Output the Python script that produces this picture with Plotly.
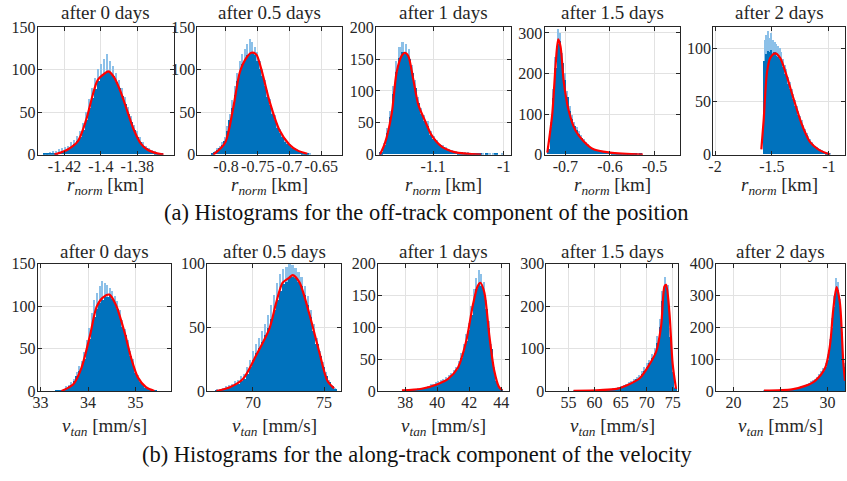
import numpy as np
import plotly.graph_objects as go

# ---------------- DATA ----------------
TITLES = ["after 0 days", "after 0.5 days", "after 1 days", "after 1.5 days", "after 2 days"]
CAPTION_A = "(a) Histograms for the off-track component of the position"
CAPTION_B = "(b) Histograms for the along-track component of the velocity"
XLABEL_A = "<i>r</i><sub><i>norm</i></sub> [km]"
XLABEL_B = "<i>v</i><sub><i>tan</i></sub> [mm/s]"

# histogram bin spans (lo, hi) of the data for each panel
POS_BIN_SPANS = [(-1.432, -1.366), (-0.823, -0.665), (-1.176, -1.0), (-0.742, -0.53), (-1.57, -0.98)]
VEL_BIN_SPANS = [(33.3, 35.45), (67.4, 75.9), (37.8, 44.1), (56.0, 75.9), (23.2, 31.86)]

# position histogram counts (dark = bulk, light = noisy upper fringe)
POS_COUNTS_0 = [1,1,1,2,2,3,4,5,6,9,12,16,21,29,40,54,66,77,86,92,95,98,96,92,85,78,69,59,48,38,29,21,15,10,7,5,3,2,1,1]
POS_PEAKS_0 = [2,2,3,4,4,6,7,9,10,14,17,22,28,37,50,65,78,90,100,106,112,118,110,104,96,88,78,68,56,45,35,27,20,14,10,7,5,4,2,2]
POS_COUNTS_05 = [1,3,5,8,11,16,27,41,55,70,86,98,106,111,117,118,121,117,110,101,92,80,68,58,48,40,31,25,20,15,12,10,8,6,4,3,2,1,1,0]
POS_PEAKS_05 = [2,4,7,10,14,20,33,48,64,80,96,110,118,124,130,136,132,126,120,110,100,88,76,65,55,46,37,30,24,19,15,12,10,8,6,4,3,2,2,1]
POS_COUNTS_1 = [3,14,34,58,94,130,152,160,158,150,127,104,80,63,53,45,31,24,18,14,11,9,7,5,4,3,3,2,2,1,1,1,1,0,1,0,0,1,0,0]
POS_PEAKS_1 = [5,18,42,68,108,146,168,176,174,166,140,116,90,72,62,52,37,29,22,17,14,11,9,7,5,4,4,3,3,2,2,2,1,1,1,1,1,1,0,1]
POS_COUNTS_15 = [14,68,138,212,272,280,226,184,142,106,88,71,60,50,41,33,27,21,16,13,11,9,8,7,6,5,5,4,4,3,3,2,2,2,1,1,1,1,0,1]
POS_PEAKS_15 = [18,80,160,240,310,300,250,200,156,118,98,80,68,57,47,38,31,25,19,16,13,11,10,8,7,6,6,5,5,4,4,3,3,2,2,2,1,1,1,1]
POS_COUNTS_2 = [88,95,97,96,98,95,96,93,92,90,86,82,76,72,66,62,56,52,46,42,37,33,29,25,22,18,15,12,10,8,7,6,5,4,3,2,2,1,1,0]
POS_PEAKS_2 = [108,112,116,110,114,108,106,104,102,100,96,90,84,80,73,68,62,57,51,46,41,36,32,28,24,20,17,14,12,10,8,7,6,5,4,3,2,2,1,1]

# velocity histogram counts
VEL_COUNTS_0 = [1,1,1,2,4,6,8,12,18,24,29,38,50,62,76,88,97,104,108,112,111,113,109,104,97,88,76,66,54,42,33,22,16,11,7,4,3,2,1,1]
VEL_PEAKS_0 = [2,2,2,3,6,8,11,15,23,30,36,46,60,75,92,108,116,124,130,128,125,122,118,112,106,96,84,73,61,48,38,26,19,13,9,6,4,3,2,1]
VEL_COUNTS_05 = [1,1,2,2,3,4,5,6,8,10,14,19,25,30,34,39,44,50,57,64,72,79,84,86,89,90,89,86,83,76,68,58,47,37,28,19,12,7,4,2]
VEL_PEAKS_05 = [2,2,3,4,5,6,8,9,12,14,19,25,32,37,42,47,53,60,68,76,85,92,96,98,100,99,97,94,90,83,75,64,53,42,32,23,15,9,5,3]
VEL_COUNTS_1 = [1,1,1,2,2,2,3,3,4,5,6,8,9,10,12,14,16,18,20,24,28,33,40,52,64,79,96,120,144,160,170,166,157,130,99,66,33,17,6,2]
VEL_PEAKS_1 = [2,2,2,3,3,4,5,5,6,7,9,11,12,14,16,18,20,22,25,29,34,39,47,60,74,90,108,134,160,178,190,184,172,144,110,74,38,21,8,3]
VEL_COUNTS_15 = [0,1,1,1,1,1,2,2,2,2,2,3,3,4,4,5,6,8,10,12,14,17,20,25,28,31,40,49,58,66,78,90,115,152,212,250,228,128,46,7]
VEL_PEAKS_15 = [1,1,1,1,2,2,3,3,3,3,3,4,4,5,6,7,9,11,13,15,18,21,25,30,34,38,47,57,66,75,88,102,130,170,236,270,250,150,58,10]
VEL_COUNTS_2 = [1,1,1,1,2,2,2,3,3,3,4,4,5,5,6,8,9,11,13,15,17,20,23,26,30,33,38,46,55,64,76,100,142,200,264,320,318,268,168,78]
VEL_PEAKS_2 = [2,2,2,2,3,3,3,4,4,4,5,5,6,7,8,10,11,13,16,18,20,24,27,31,35,39,44,53,63,74,88,118,165,230,300,355,345,290,185,88]

# fitted density curves (red)
POS_FIT_X = [
    [-1.4255,-1.4182,-1.4127,-1.4082,-1.4045,-1.4018,-1.3982,-1.3958,-1.3927,-1.3891,-1.3855,-1.3818,-1.3782,-1.3745,-1.3691,-1.3655],
    [-0.8198,-0.8016,-0.7886,-0.7782,-0.7679,-0.760,-0.7523,-0.7445,-0.7315,-0.7159,-0.7003,-0.6875,-0.672],
    [-1.1752,-1.1682,-1.1587,-1.1517,-1.1446,-1.14,-1.1352,-1.1282,-1.1211,-1.1118,-1.1024,-1.0883,-1.0696,-1.032],
    [-0.7407,-0.7296,-0.7222,-0.7163,-0.7111,-0.7037,-0.6926,-0.6778,-0.6593,-0.637,-0.6,-0.526],
    [-1.593,-1.573,-1.544,-1.515,-1.471,-1.427,-1.370,-1.311,-1.239,-1.166,-1.093,-0.991],
]
POS_FIT_Y = [
    [0,6,15.5,40,70,87.5,95,98,91,74,51.5,29,13.6,6,1.5,0],
    [0,13.6,55,97,114,120,118,101,63,29,12,5,1],
    [0,18,64,129,155,160,155,119,79,54,31,13,4,0],
    [5,100,219,284,267,179,108,60,33,13,5,0],
    [5,32,77,91,95.5,91,74,53,29,12,5,0],
]
VEL_FIT_X = [
    [33.44,33.69,33.86,34.04,34.18,34.31,34.45,34.59,34.77,34.91,35.05,35.22,35.40],
    [67.44,68.38,69.30,70.23,71.16,71.63,72.09,72.56,72.79,73.26,73.95,74.65,75.23,75.70],
    [37.80,39.03,40.06,40.68,41.30,41.81,42.22,42.53,42.69,42.94,43.25,43.56,43.86,44.07],
    [55.95,61.04,64.21,66.12,68.66,70.56,71.84,72.79,73.42,73.74,74.37,75.0,75.65],
    [23.24,26.22,27.63,28.68,29.74,30.26,30.61,30.96,31.32,31.67,31.86],
]
VEL_FIT_Y = [
    [0,8,27,65,99,110,113.5,101,69,38.5,16,4.5,0],
    [0,3,9.4,28,49,69,85,89,91,85.5,61,31,8,2],
    [1,3.5,11,19,37,78,134,165,170,155,88,32,6,1],
    [0,2,5,13,30,63,93,154,246,250,185,63,5],
    [1,5,16,32,72,143,255,326,276,93,32],
]

# axis ranges and ticks
POS_XRANGES = [(-1.4347, -1.36), (-0.845, -0.617), (-1.181, -0.99), (-0.747, -0.442), (-2.017, -0.858)]
VEL_XRANGES = [(32.94, 35.74), (66.8, 76.2), (36.3, 44.47), (50.75, 76.1), (18.15, 31.86)]
POS_YMAX = [150, 150, 200, 314, 120]
VEL_YMAX = [150, 100, 200, 300, 400]
POS_XTICKS = [[-1.42, -1.4, -1.38], [-0.8, -0.75, -0.7, -0.65], [-1.1, -1.0], [-0.7, -0.6, -0.5], [-2, -1.5, -1]]
POS_XTICKTEXT = [["-1.42", "-1.4", "-1.38"], ["-0.8", "-0.75", "-0.7", "-0.65"], ["-1.1", "-1"], ["-0.7", "-0.6", "-0.5"], ["-2", "-1.5", "-1"]]
VEL_XTICKS = [[33, 34, 35], [70, 75], [38, 40, 42, 44], [55, 60, 65, 70, 75], [20, 25, 30]]
POS_YTICKS = [[0, 50, 100, 150], [0, 50, 100, 150], [0, 50, 100, 150, 200], [0, 100, 200, 300], [0, 50, 100]]
VEL_YTICKS = [[0, 50, 100, 150], [0, 50, 100], [0, 50, 100, 150, 200], [0, 100, 200, 300], [0, 100, 200, 300, 400]]

POS_COUNTS = [POS_COUNTS_0, POS_COUNTS_05, POS_COUNTS_1, POS_COUNTS_15, POS_COUNTS_2]
POS_PEAKS = [POS_PEAKS_0, POS_PEAKS_05, POS_PEAKS_1, POS_PEAKS_15, POS_PEAKS_2]
VEL_COUNTS = [VEL_COUNTS_0, VEL_COUNTS_05, VEL_COUNTS_1, VEL_COUNTS_15, VEL_COUNTS_2]
VEL_PEAKS = [VEL_PEAKS_0, VEL_PEAKS_05, VEL_PEAKS_1, VEL_PEAKS_15, VEL_PEAKS_2]

# ---------------- LAYOUT / STYLE ----------------
W, H = 847, 481
ROW_X_PX = [
    [(33, 170), (194, 340), (374, 510), (544, 681), (714, 847)],
    [(33, 167), (204, 339), (376, 508), (546, 679), (717, 847)],
]
ROW_Y_PX = [(20, 152), (265, 397)]
TITLE_TOP_PX = [-8, 239]
XLABEL_Y_PX = [185, 434]
CAPTION_Y_PX = [212, 463]
CAPTION_X_PX = [425, 416]

FONT = "'Liberation Serif', 'Times New Roman', 'DejaVu Serif', serif"
AXC = "#262626"
DARK = "rgb(0,114,189)"
LIGHT = "rgb(140,192,232)"
RED = "rgb(255,0,0)"
GRID = "#e2e2e2"

fig = go.Figure()
layout = dict(
    width=W, height=H, margin=dict(l=0, r=0, t=0, b=0),
    paper_bgcolor="white", plot_bgcolor="white",
    showlegend=False, barmode="overlay", bargap=0,
    font=dict(family=FONT, size=16, color=AXC),
)
annotations = []

rows = [
    (POS_BIN_SPANS, POS_COUNTS, POS_PEAKS, POS_FIT_X, POS_FIT_Y, POS_XRANGES, POS_YMAX,
     POS_XTICKS, POS_XTICKTEXT, POS_YTICKS, XLABEL_A),
    (VEL_BIN_SPANS, VEL_COUNTS, VEL_PEAKS, VEL_FIT_X, VEL_FIT_Y, VEL_XRANGES, VEL_YMAX,
     VEL_XTICKS, [[str(v) for v in t] for t in VEL_XTICKS], VEL_YTICKS, XLABEL_B),
]

k = 0
for r, (spans, counts, peaks, fx, fy, xr, ymax, xt, xtt, yt, xlabel) in enumerate(rows):
    for c in range(5):
        k += 1
        xa = "x" if k == 1 else f"x{k}"
        ya = "y" if k == 1 else f"y{k}"
        lo, hi = spans[c]
        n = len(counts[c])
        w = (hi - lo) / n
        centers = np.linspace(lo + w / 2, hi - w / 2, n)
        fig.add_trace(go.Bar(x=centers, y=peaks[c], width=w * 0.55, marker=dict(color=LIGHT, line=dict(width=0)),
                             xaxis=xa, yaxis=ya))
        fig.add_trace(go.Bar(x=centers, y=counts[c], width=w * 1.04, marker=dict(color=DARK, line=dict(width=0)),
                             xaxis=xa, yaxis=ya))
        fig.add_trace(go.Scatter(x=fx[c], y=fy[c], mode="lines",
                                 line=dict(color=RED, width=2.2, shape="spline", smoothing=0.8),
                                 xaxis=xa, yaxis=ya))
        x0, x1 = ROW_X_PX[r][c]
        y0, y1 = ROW_Y_PX[r]
        common = dict(ticks="inside", ticklen=4, tickcolor=AXC, showline=True, linecolor=AXC, linewidth=1,
                      mirror="allticks", showgrid=True, gridcolor=GRID, gridwidth=1, zeroline=False,
                      tickfont=dict(family=FONT, size=16, color=AXC))
        layout["xaxis" if k == 1 else f"xaxis{k}"] = dict(
            domain=[x0 / W, x1 / W], range=list(xr[c]), tickvals=xt[c], ticktext=xtt[c],
            anchor=ya, ticklabelstandoff=-3, **common)
        layout["yaxis" if k == 1 else f"yaxis{k}"] = dict(
            domain=[1 - y1 / H, 1 - y0 / H], range=[0, ymax[c]], tickvals=yt[c],
            ticktext=[str(v) for v in yt[c]], anchor=xa, ticklabelstandoff=-2, **common)
        xc = (x0 + x1) / 2 / W
        annotations.append(dict(text=TITLES[c], x=xc, y=1 - TITLE_TOP_PX[r] / H, xref="paper", yref="paper",
                                showarrow=False, xanchor="center", yanchor="top",
                                font=dict(family=FONT, size=19, color=AXC)))
        annotations.append(dict(text=xlabel, x=xc, y=1 - XLABEL_Y_PX[r] / H, xref="paper", yref="paper",
                                showarrow=False, xanchor="center", yanchor="middle",
                                font=dict(family=FONT, size=19, color=AXC)))

for r, cap in enumerate([CAPTION_A, CAPTION_B]):
    annotations.append(dict(text=cap, x=CAPTION_X_PX[r] / W, y=1 - CAPTION_Y_PX[r] / H, xref="paper", yref="paper",
                            showarrow=False, xanchor="center", yanchor="middle",
                            font=dict(family=FONT, size=22.5, color="#111111")))

layout["annotations"] = annotations
fig.update_layout(**layout)
fig.write_html("out.html")
